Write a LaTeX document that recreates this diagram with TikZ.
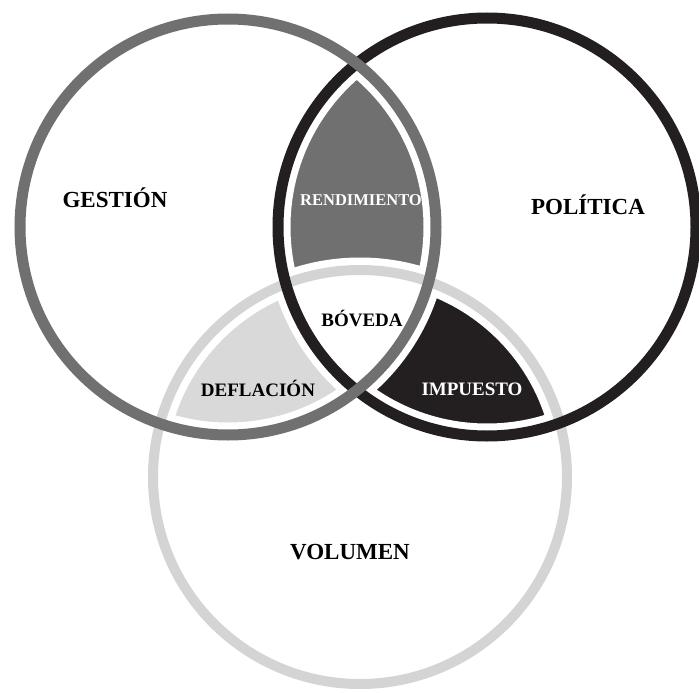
\documentclass[tikz,border=0pt]{standalone}
\usepackage{fontspec}
\setmainfont{Liberation Serif}
\begin{document}
\begin{tikzpicture}[x=1pt,y=-1pt,
  ringG/.style={draw=gestionc,line width=11pt},
  ringP/.style={draw=politicac,line width=11pt},
  ringV/.style={draw=volumenc,line width=10pt},
  halo/.style={draw=white,line width=25pt},
  big/.style={font=\bfseries\fontsize{23}{26}\selectfont,text=black},
  mid/.style={font=\bfseries\fontsize{19}{22}\selectfont},
  small/.style={font=\bfseries\fontsize{16.5}{19}\selectfont}]
\definecolor{gestionc}{HTML}{707070}
\definecolor{politicac}{HTML}{231F20}
\definecolor{volumenc}{HTML}{D4D4D4}
\definecolor{rendc}{HTML}{707070}
\definecolor{deflc}{HTML}{D9D9D9}
\definecolor{impc}{HTML}{231F20}
\useasboundingbox[fill=white] (0,0) rectangle (699,693);
\def\rG{208}\def\rP{209}\def\rV{207}
\coordinate (cG) at (228,227);
\coordinate (cP) at (487,227);
\coordinate (cV) at (360,477);
% region fills
\begin{scope}\clip (cG) circle[radius=\rG]; \fill[rendc] (cP) circle[radius=\rP];\end{scope}
\begin{scope}\clip (cG) circle[radius=\rG]; \fill[deflc] (cV) circle[radius=\rV];\end{scope}
\begin{scope}\clip (cP) circle[radius=\rP]; \fill[impc] (cV) circle[radius=\rV];\end{scope}
\begin{scope}\clip (cG) circle[radius=\rG]; \clip (cP) circle[radius=\rP]; \fill[white] (cV) circle[radius=\rV];\end{scope}
% white gaps
\path[halo] (cV) circle[radius=\rV];
\path[halo] (cP) circle[radius=\rP];
\path[halo] (cG) circle[radius=\rG];
% rings
\path[ringV] (cV) circle[radius=\rV];
\path[ringP] (cP) circle[radius=\rP];
\path[ringG] (cG) circle[radius=\rG];
% labels
\node[big] (gestion) at (115,198) {GESTIÓN};
\node[big] (politica) at (588,205) {POLÍTICA};
\node[big] (volumen) at (350,552) {VOLUMEN};
\node[small,text=white] (rend) at (361,200) {RENDIMIENTO};
\node[mid,text=black] (boveda) at (362,318) {BÓVEDA};
\node[mid,text=black] (defl) at (258,388) {DEFLACIÓN};
\node[mid,text=white] (imp) at (472,389) {IMPUESTO};
\end{tikzpicture}
\end{document}
